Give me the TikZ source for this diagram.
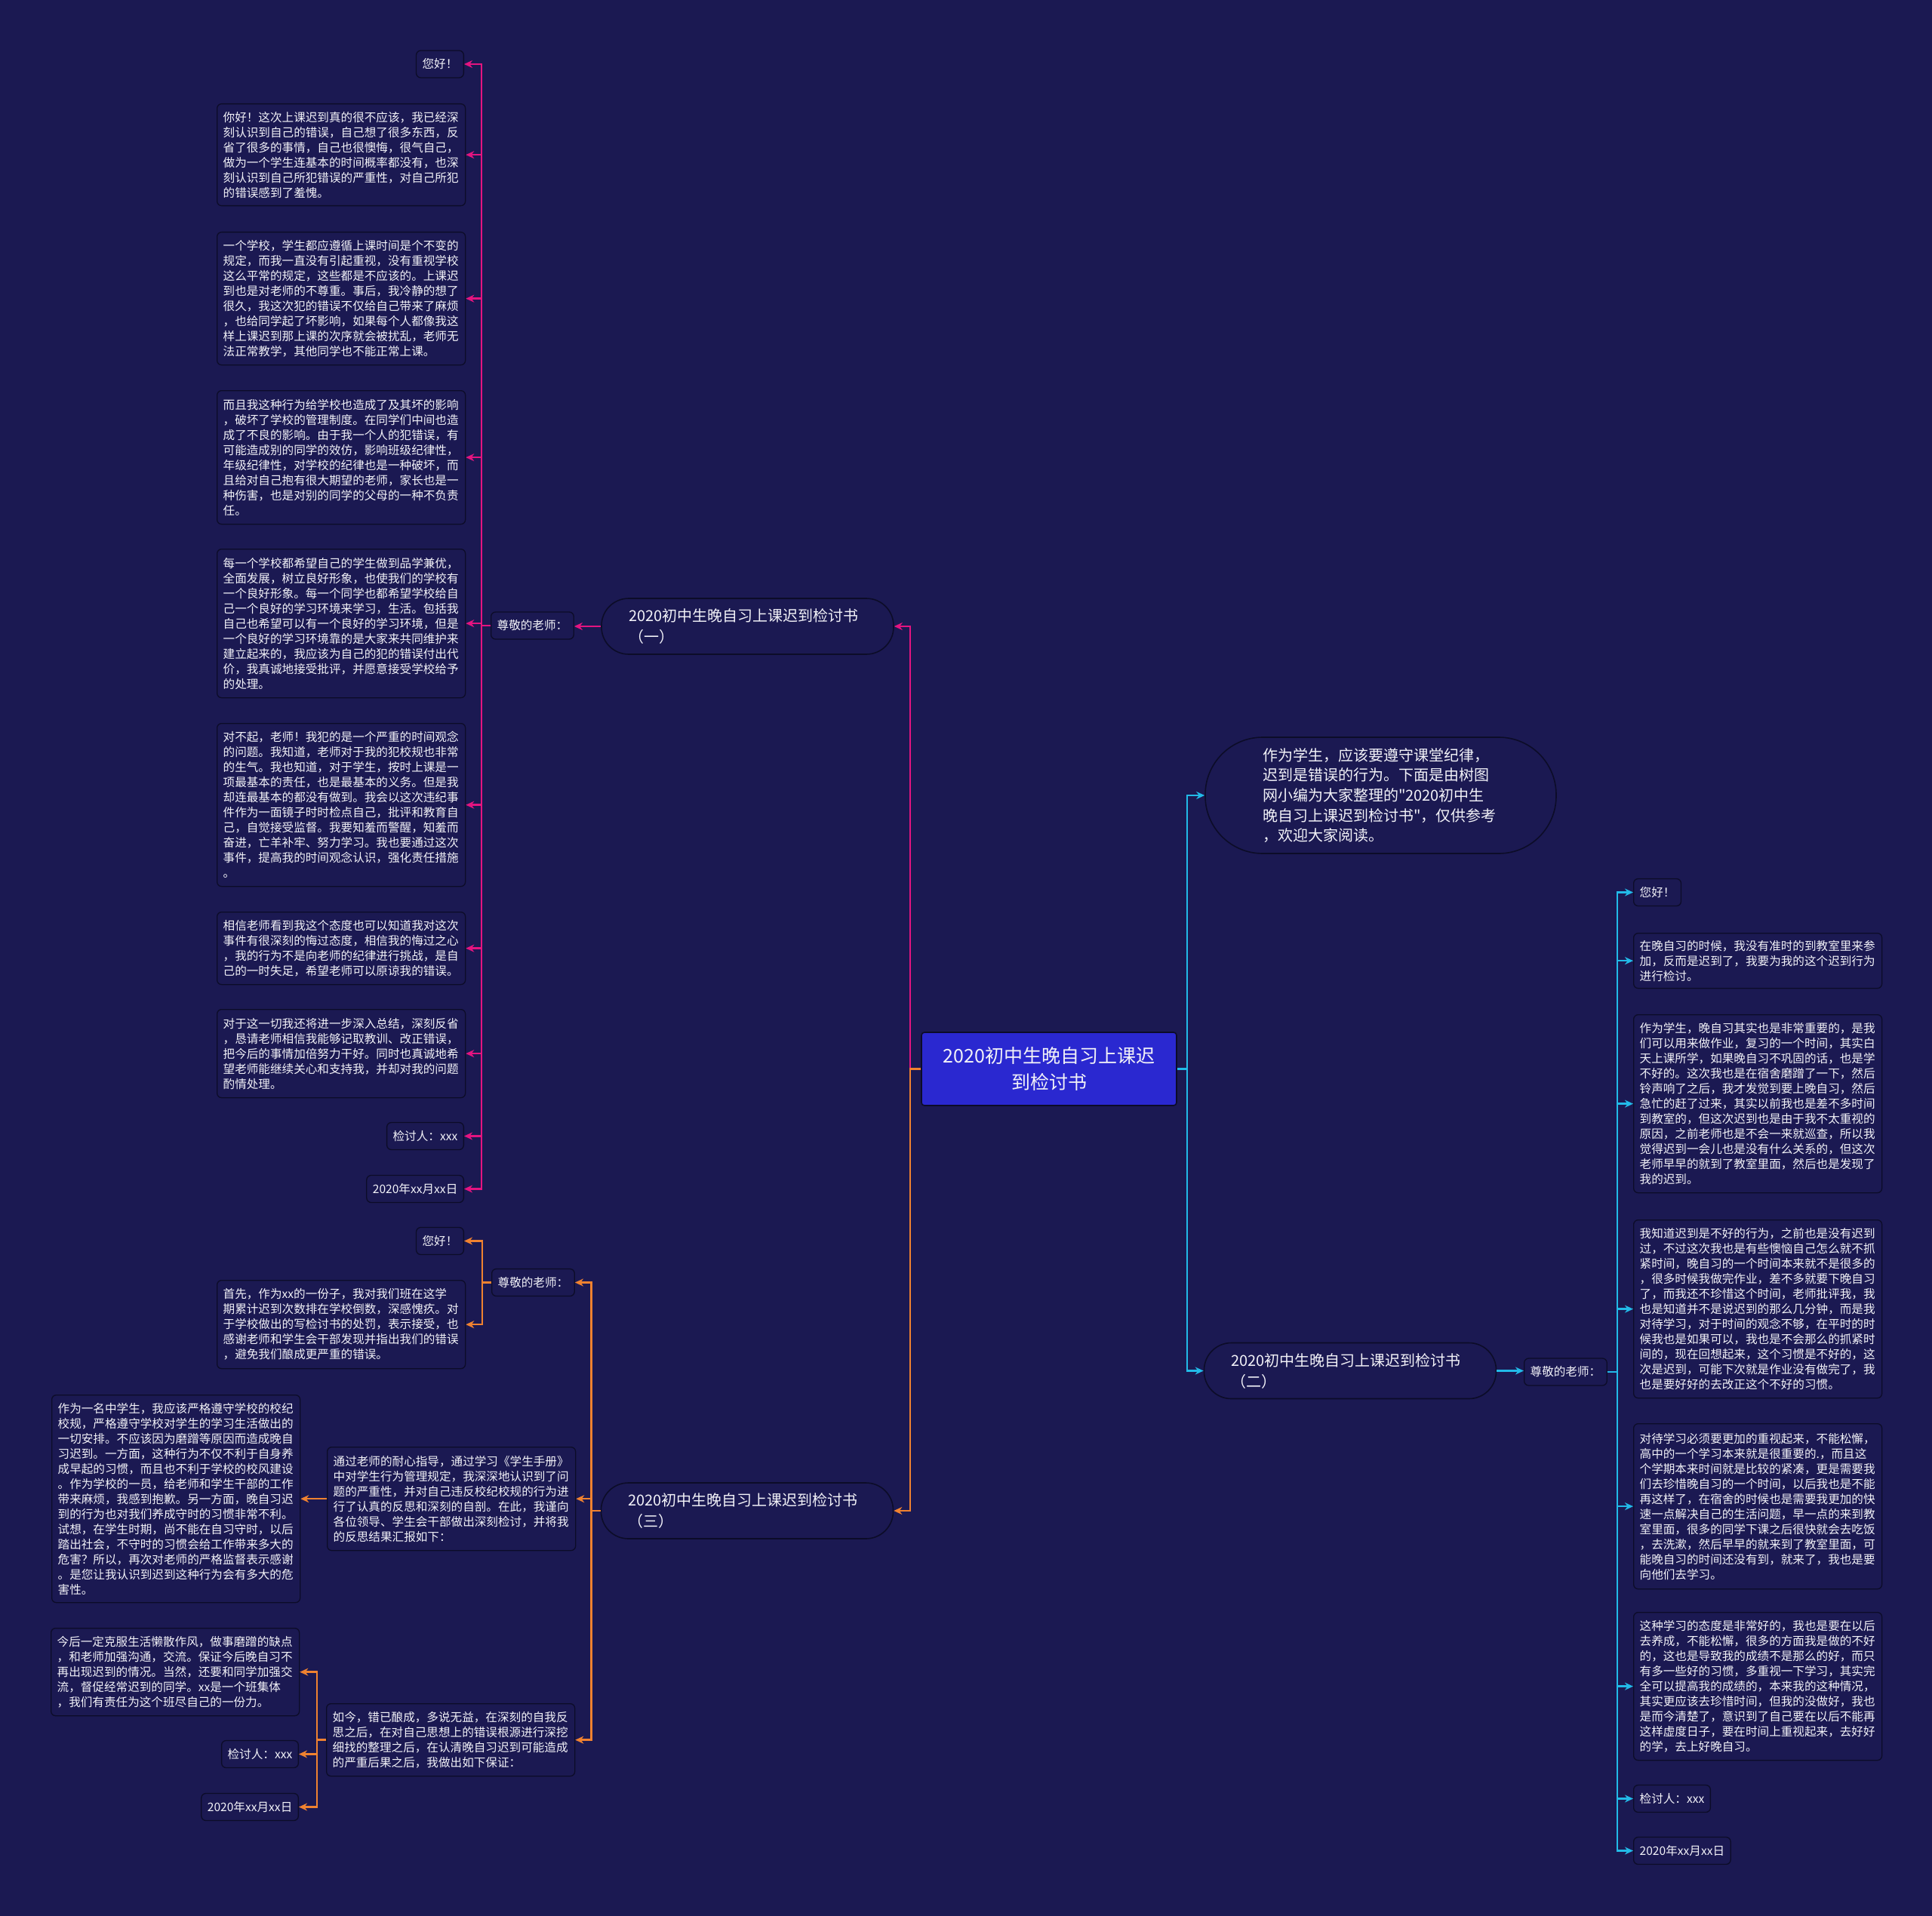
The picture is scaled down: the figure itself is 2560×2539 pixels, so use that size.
\documentclass[tikz,border=0pt]{standalone}
\usepackage{fontspec}
\setmainfont{Noto Sans CJK SC}[Ligatures=TeXOff]
\usetikzlibrary{arrows.meta}
\definecolor{bg}{RGB}{27,25,82}
\definecolor{bline}{RGB}{12,12,40}
\definecolor{cblue}{RGB}{42,40,208}
\definecolor{cpink}{RGB}{228,20,128}
\definecolor{corange}{RGB}{240,130,48}
\definecolor{ccyan}{RGB}{34,186,232}
\definecolor{tx}{RGB}{242,242,248}
\newcommand\fsm{\fontsize{15.6pt}{20pt}\selectfont}
\newcommand\fmd{\fontsize{20pt}{28pt}\selectfont}
\newcommand\fin{\fontsize{20pt}{26.6pt}\selectfont}
\newcommand\fbig{\fontsize{25pt}{35pt}\selectfont}
\begin{document}
\begin{tikzpicture}[x=1pt,y=-1pt,
 bx/.style={draw=bline, fill=bg, line width=1.3pt, rounded corners=6pt, text=tx, font=\fsm, inner xsep=8pt, inner ysep=0pt, minimum height=36pt},
 tb/.style={bx, text width=313pt, align=left, anchor=north west},
 pill/.style={draw=bline, fill=bg, line width=1.6pt, rounded corners=36pt, text=tx, font=\fmd, align=left, inner xsep=36pt, inner ysep=0pt, text width=315pt, minimum height=74pt},
 ar/.style={line width=2.5pt, -{Stealth[length=11pt,width=10pt]}}
]
\fill[bg] (0,0) rectangle (2560,2539);
\useasboundingbox (0,0) rectangle (2560,2539);

% center
\node[draw=bline, fill=cblue, line width=1.6pt, rounded corners=4pt, text=tx, font=\fbig, align=center, minimum width=338pt, minimum height=97pt, inner sep=0pt] (C) at (1390,1416.5) {2020初中生晚自习上课迟\\到检讨书};

% branches
\node[pill] (B1) at (990.5,830) {2020初中生晚自习上课迟到检讨书\\（一）};
\node[pill] (B3) at (990,2002) {2020初中生晚自习上课迟到检讨书\\（三）};
\node[pill] (B2) at (1789,1816.5) {2020初中生晚自习上课迟到检讨书\\（二）};
\node[draw=bline, fill=bg, line width=1.6pt, rounded corners=76pt, text=tx, font=\fin, align=left, inner xsep=76pt, inner ysep=0pt, text width=313pt, minimum height=154pt] (INT) at (1829.5,1054) {作为学生，应该要遵守课堂纪律，\\迟到是错误的行为。下面是由树图\\网小编为大家整理的"2020初中生\\晚自习上课迟到检讨书"，仅供参考\\，欢迎大家阅读。};

% pink branch
\node[bx, anchor=west] (H1) at (650,829) {尊敬的老师：};
\node[bx, anchor=east] (P0) at (615,85) {您好！};
\node[tb, minimum height=135pt] (P1) at (287,137) {你好！这次上课迟到真的很不应该，我已经深\\刻认识到自己的错误，自己想了很多东西，反\\省了很多的事情，自己也很懊悔，很气自己，\\做为一个学生连基本的时间概率都没有，也深\\刻认识到自己所犯错误的严重性，对自己所犯\\的错误感到了羞愧。};
\node[tb, minimum height=176pt] (P2) at (287,307) {一个学校，学生都应遵循上课时间是个不变的\\规定，而我一直没有引起重视，没有重视学校\\这么平常的规定，这些都是不应该的。上课迟\\到也是对老师的不尊重。事后，我冷静的想了\\很久，我这次犯的错误不仅给自己带来了麻烦\\，也给同学起了坏影响，如果每个人都像我这\\样上课迟到那上课的次序就会被扰乱，老师无\\法正常教学，其他同学也不能正常上课。};
\node[tb, minimum height=177pt] (P3) at (287,517) {而且我这种行为给学校也造成了及其坏的影响\\，破坏了学校的管理制度。在同学们中间也造\\成了不良的影响。由于我一个人的犯错误，有\\可能造成别的同学的效仿，影响班级纪律性，\\年级纪律性，对学校的纪律也是一种破坏，而\\且给对自己抱有很大期望的老师，家长也是一\\种伤害，也是对别的同学的父母的一种不负责\\任。};
\node[tb, minimum height=197pt] (P4) at (287,727) {每一个学校都希望自己的学生做到品学兼优，\\全面发展，树立良好形象，也使我们的学校有\\一个良好形象。每一个同学也都希望学校给自\\己一个良好的学习环境来学习，生活。包括我\\自己也希望可以有一个良好的学习环境，但是\\一个良好的学习环境靠的是大家来共同维护来\\建立起来的，我应该为自己的犯的错误付出代\\价，我真诚地接受批评，并愿意接受学校给予\\的处理。};
\node[tb, minimum height=216pt] (P5) at (287,958) {对不起，老师！我犯的是一个严重的时间观念\\的问题。我知道，老师对于我的犯校规也非常\\的生气。我也知道，对于学生，按时上课是一\\项最基本的责任，也是最基本的义务。但是我\\却连最基本的都没有做到。我会以这次违纪事\\件作为一面镜子时时检点自己，批评和教育自\\己，自觉接受监督。我要知羞而警醒，知羞而\\奋进，亡羊补牢、努力学习。我也要通过这次\\事件，提高我的时间观念认识，强化责任措施\\。};
\node[tb, minimum height=96pt] (P6) at (287,1208) {相信老师看到我这个态度也可以知道我对这次\\事件有很深刻的悔过态度，相信我的悔过之心\\，我的行为不是向老师的纪律进行挑战，是自\\己的一时失足，希望老师可以原谅我的错误。};
\node[tb, minimum height=117pt] (P7) at (287,1337) {对于这一切我还将进一步深入总结，深刻反省\\，恳请老师相信我能够记取教训、改正错误，\\把今后的事情加倍努力干好。同时也真诚地希\\望老师能继续关心和支持我，并却对我的问题\\酌情处理。};
\node[bx, anchor=east] (P8) at (615,1505.5) {检讨人：xxx};
\node[bx, anchor=east] (P9) at (615,1575.5) {2020年xx月xx日};

% orange branch
\node[bx, anchor=west] (H3) at (651,1699.5) {尊敬的老师：};
\node[bx, anchor=east] (O0) at (615,1644.5) {您好！};
\node[tb, minimum height=117pt] (O1) at (287,1696) {首先，作为xx的一份子，我对我们班在这学\\期累计迟到次数排在学校倒数，深感愧疚。对\\于学校做出的写检讨书的处罚，表示接受，也\\感谢老师和学生会干部发现并指出我们的错误\\，避免我们酿成更严重的错误。};
\node[tb, minimum height=137pt] (O2) at (433,1917) {通过老师的耐心指导，通过学习《学生手册》\\中对学生行为管理规定，我深深地认识到了问\\题的严重性，并对自己违反校纪校规的行为进\\行了认真的反思和深刻的自剖。在此，我谨向\\各位领导、学生会干部做出深刻检讨，并将我\\的反思结果汇报如下：};
\node[tb, minimum height=275pt] (O3) at (68,1848) {作为一名中学生，我应该严格遵守学校的校纪\\校规，严格遵守学校对学生的学习生活做出的\\一切安排。不应该因为磨蹭等原因而造成晚自\\习迟到。一方面，这种行为不仅不利于自身养\\成早起的习惯，而且也不利于学校的校风建设\\。作为学校的一员，给老师和学生干部的工作\\带来麻烦，我感到抱歉。另一方面，晚自习迟\\到的行为也对我们养成守时的习惯非常不利。\\试想，在学生时期，尚不能在自习守时，以后\\踏出社会，不守时的习惯会给工作带来多大的\\危害？所以，再次对老师的严格监督表示感谢\\。是您让我认识到迟到这种行为会有多大的危\\害性。};
\node[tb, minimum height=96pt] (O4) at (432,2257) {如今，错已酿成，多说无益，在深刻的自我反\\思之后，在对自己思想上的错误根源进行深挖\\细找的整理之后，在认清晚自习迟到可能造成\\的严重后果之后，我做出如下保证：};
\node[tb, minimum height=116pt] (O5) at (67,2157) {今后一定克服生活懒散作风，做事磨蹭的缺点\\，和老师加强沟通，交流。保证今后晚自习不\\再出现迟到的情况。当然，还要和同学加强交\\流，督促经常迟到的同学。xx是一个班集体\\，我们有责任为这个班尽自己的一份力。};
\node[bx, anchor=east] (O6) at (396,2324.5) {检讨人：xxx};
\node[bx, anchor=east] (O7) at (396,2394.5) {2020年xx月xx日};

% cyan branch
\node[bx, anchor=west] (H2) at (2019,1818) {尊敬的老师：};
\node[bx, anchor=west] (R0) at (2164,1182.5) {您好！};
\node[tb, minimum height=73pt] (R1) at (2164,1236) {在晚自习的时候，我没有准时的到教室里来参\\加，反而是迟到了，我要为我的这个迟到行为\\进行检讨。};
\node[tb, minimum height=236pt] (R2) at (2164,1344) {作为学生，晚自习其实也是非常重要的，是我\\们可以用来做作业，复习的一个时间，其实白\\天上课所学，如果晚自习不巩固的话，也是学\\不好的。这次我也是在宿舍磨蹭了一下，然后\\铃声响了之后，我才发觉到要上晚自习，然后\\急忙的赶了过来，其实以前我也是差不多时间\\到教室的，但这次迟到也是由于我不太重视的\\原因，之前老师也是不会一来就巡查，所以我\\觉得迟到一会儿也是没有什么关系的，但这次\\老师早早的就到了教室里面，然后也是发现了\\我的迟到。};
\node[tb, minimum height=236pt] (R3) at (2164,1616) {我知道迟到是不好的行为，之前也是没有迟到\\过，不过这次我也是有些懊恼自己怎么就不抓\\紧时间，晚自习的一个时间本来就不是很多的\\，很多时候我做完作业，差不多就要下晚自习\\了，而我还不珍惜这个时间，老师批评我，我\\也是知道并不是说迟到的那么几分钟，而是我\\对待学习，对于时间的观念不够，在平时的时\\候我也是如果可以，我也是不会那么的抓紧时\\间的，现在回想起来，这个习惯是不好的，这\\次是迟到，可能下次就是作业没有做完了，我\\也是要好好的去改正这个不好的习惯。};
\node[tb, minimum height=219pt] (R4) at (2164,1886) {对待学习必须要更加的重视起来，不能松懈，\\高中的一个学习本来就是很重要的.，而且这\\个学期本来时间就是比较的紧凑，更是需要我\\们去珍惜晚自习的一个时间，以后我也是不能\\再这样了，在宿舍的时候也是需要我更加的快\\速一点解决自己的生活问题，早一点的来到教\\室里面，很多的同学下课之后很快就会去吃饭\\，去洗漱，然后早早的就来到了教室里面，可\\能晚自习的时间还没有到，就来了，我也是要\\向他们去学习。};
\node[tb, minimum height=196pt] (R5) at (2164,2136) {这种学习的态度是非常好的，我也是要在以后\\去养成，不能松懈，很多的方面我是做的不好\\的，这也是导致我的成绩不是那么的好，而只\\有多一些好的习惯，多重视一下学习，其实完\\全可以提高我的成绩的，本来我的这种情况，\\其实更应该去珍惜时间，但我的没做好，我也\\是而今清楚了，意识到了自己要在以后不能再\\这样虚度日子，要在时间上重视起来，去好好\\的学，去上好晚自习。};
\node[bx, anchor=west] (R6) at (2164,2383.5) {检讨人：xxx};
\node[bx, anchor=west] (R7) at (2164,2452.5) {2020年xx月xx日};

% connectors
\draw[ar,cpink] (C.west) -- ++(-14,0) |- (B1.east);
\draw[ar,corange] (C.west) -- ++(-14,0) |- (B3.east);
\draw[ar,ccyan] (C.east) -- ++(13,0) |- (INT.west);
\draw[ar,ccyan] (C.east) -- ++(13,0) |- (B2.west);

\draw[ar,cpink] (B1.west) -- (B1.west -| H1.east);
\foreach \nn in {P0,P1,P2,P3,P4,P5,P6,P7,P8,P9}
  \draw[ar,cpink] (H1.west) -- ++(-12,0) |- (\nn.east);

\foreach \nn in {H3,O2,O4}
  \draw[ar,corange] (B3.west) -- ++(-12,0) |- (\nn.east);
\foreach \nn in {O0,O1}
  \draw[ar,corange] (H3.west) -- ++(-12,0) |- (\nn.east);
\draw[ar,corange] (O2.west) -- (O2.west -| O3.east);
\foreach \nn in {O5,O6,O7}
  \draw[ar,corange] (O4.west) -- ++(-12,0) |- (\nn.east);

\draw[ar,ccyan] (B2.east) -- (B2.east -| H2.west);
\foreach \nn in {R0,R1,R2,R3,R4,R5,R6,R7}
  \draw[ar,ccyan] (H2.east) -- ++(13,0) |- (\nn.west);
\end{tikzpicture}
\end{document}
